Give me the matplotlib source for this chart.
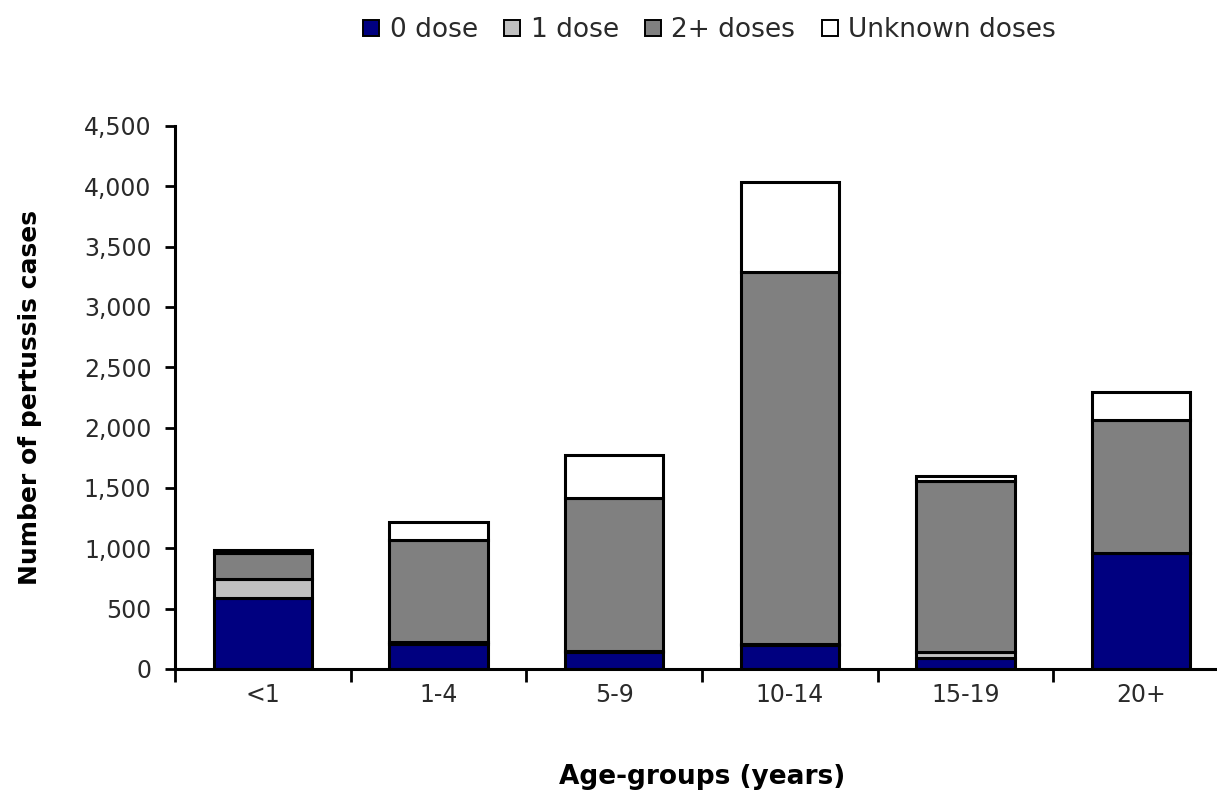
import numpy as np
import matplotlib
matplotlib.use("Agg")
import matplotlib.pyplot as plt
from matplotlib.patches import Patch

# -------------------------------
# DATA
# -------------------------------

age_groups = ["<1", "1-4", "5-9", "10-14", "15-19", "20+"]
dose_0 = [590, 210, 140, 200, 90, 960]
dose_1 = [160, 10, 10, 10, 50, 0]
dose_2plus = [215, 850, 1270, 3080, 1420, 1100]
dose_unknown = [25, 150, 350, 750, 40, 235]

series_names = ["0 dose", "1 dose", "2+ doses", "Unknown doses"]
series_colors = ["#000080", "#C0C0C0", "#808080", "#FFFFFF"]

# -------------------------------
# PLOT
# -------------------------------

plt.rcParams['font.family'] = ['DejaVu Sans']

fig = plt.figure(figsize=(12.17, 7.96), dpi=100)
ax = fig.add_axes([175 / 1217, 1 - 669 / 796, 1054 / 1217, (669 - 126) / 796])

x = np.arange(len(age_groups))
bottom = np.zeros(len(age_groups))
for vals, name, col in zip([dose_0, dose_1, dose_2plus, dose_unknown],
                           series_names, series_colors):
    ax.bar(x, vals, width=0.56, bottom=bottom, color=col,
           edgecolor="black", linewidth=2.2, label=name)
    bottom += np.array(vals)

ax.set_xlim(-0.5, len(age_groups) - 0.5)
ax.set_ylim(0, 4500)
ax.set_yticks(np.arange(0, 4501, 500))
ax.set_yticklabels([f"{v:,}" for v in range(0, 4501, 500)])

ax.set_xticks(x)
ax.set_xticklabels(age_groups)
ax.set_xticks(np.arange(-0.5, len(age_groups), 1), minor=True)
ax.tick_params(axis="x", which="major", length=0, pad=10,
               labelsize=17, labelcolor="#2a2a2a")
ax.tick_params(axis="x", which="minor", length=9, width=2, direction="out")
ax.tick_params(axis="y", length=7, width=2, pad=10,
               labelsize=17, labelcolor="#2a2a2a")

for s in ["top", "right"]:
    ax.spines[s].set_visible(False)
for s in ["left", "bottom"]:
    ax.spines[s].set_linewidth(2.2)

ax.set_ylabel("Number of pertussis cases", fontsize=18, fontweight="bold",
              labelpad=30)
ax.set_xlabel("Age-groups (years)", fontsize=19, fontweight="bold",
              labelpad=41)

handles = [Patch(facecolor=c, edgecolor="black", linewidth=1.4)
           for c in series_colors]
fig.legend(handles, series_names, loc="center", bbox_to_anchor=(0.583, 0.962),
           ncol=4, frameon=False, fontsize=19, handlelength=0.6,
           handleheight=0.6, handletextpad=0.4, columnspacing=1.0,
           labelcolor="#2a2a2a")

plt.savefig("out.png", dpi=100)
